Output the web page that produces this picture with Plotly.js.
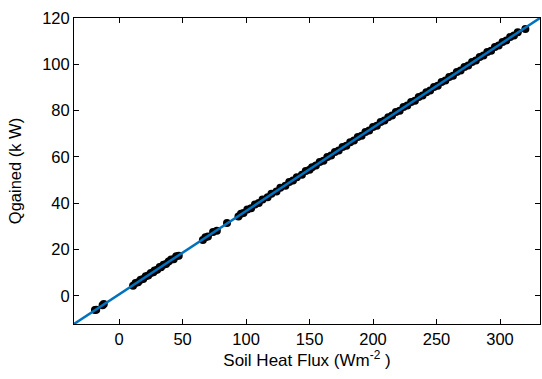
<!DOCTYPE html>
<html>
<head>
<meta charset="utf-8">
<script src="https://cdn.plot.ly/plotly-3.0.1.min.js"></script>
<style>html,body{margin:0;padding:0;background:#fff;}#chart{width:542px;height:379px;}</style>
</head>
<body>
<div id="chart"></div>
<script>
// Measured points: soil heat flux (W m^-2) vs heat gained (kW)
const fluxValues = [-19, -18, -13, -12, 11, 13, 15, 17, 19, 21, 23, 25, 27, 28, 30, 32, 33, 35, 37, 39, 41, 43, 45, 47,
  66, 68, 70, 74, 77, 85, 94, 96, 98, 101, 104, 107, 110, 113, 117, 120, 124, 127, 131, 134, 137, 140, 144, 147,
  150, 152, 155, 158, 161, 164, 167, 170, 173, 176, 179, 182, 185, 188, 191, 194, 197, 200, 203, 206, 209, 212,
  215, 218, 221, 224, 227, 230, 233, 236, 239, 242, 245, 248, 251, 254, 257, 260, 263, 266, 269, 272, 275, 278,
  281, 284, 287, 290, 293, 296, 299, 302, 305, 308, 311, 314, 320];
const qGainedValues = [-6.1, -5.9, -4.0, -3.5, 4.4, 5.6, 5.9, 7.0, 7.3, 8.5, 8.8, 9.9, 10.2, 11.0, 11.3, 12.5, 12.4, 13.5, 13.8, 14.9, 15.7, 15.9, 17.1, 17.4,
  24.2, 25.4, 25.7, 27.6, 28.2, 31.5, 34.3, 35.5, 35.8, 37.3, 37.9, 39.5, 40.1, 41.6, 42.6, 44.1, 45.1, 46.7, 47.6, 49.2, 49.8, 51.3, 52.3, 53.9,
  54.5, 55.6, 56.3, 57.8, 58.4, 60.0, 60.6, 62.1, 62.8, 64.3, 64.9, 66.4, 67.1, 68.6, 69.2, 70.8, 71.4, 72.9, 73.5, 75.1, 75.7, 77.2,
  77.9, 79.4, 80.0, 81.6, 82.2, 83.7, 84.3, 85.9, 86.5, 88.0, 88.7, 90.2, 90.8, 92.4, 93.0, 94.5, 95.1, 96.7, 97.3, 98.8, 99.5, 101.0,
  101.6, 103.2, 103.8, 105.3, 105.9, 107.5, 108.1, 109.6, 110.3, 111.8, 112.4, 113.9, 115.3];
// Fitted line endpoints
const fitX = [-35.5, 331.5];
const fitY = [-12.1, 120];
const xTicks = [0, 50, 100, 150, 200, 250, 300];
const yTicks = [0, 20, 40, 60, 80, 100, 120];

const FONT = 'Liberation Sans, Arial, sans-serif';
const traces = [
  {x: fluxValues, y: qGainedValues, type: 'scatter', mode: 'markers',
   marker: {color: '#000000', size: 8}},
  {x: fitX, y: fitY, type: 'scatter', mode: 'lines',
   line: {color: '#0072BD', width: 2.5}}
];
const axisCommon = {
  showgrid: false, zeroline: false, showline: true, mirror: 'ticks',
  linecolor: '#000', linewidth: 1, ticks: 'inside', ticklen: 5, tickcolor: '#000',
  tickfont: {family: FONT, size: 16.5, color: '#000'}
};
const layout = {
  width: 542, height: 379,
  margin: {l: 74, r: 2, t: 18, b: 55},
  paper_bgcolor: '#fff', plot_bgcolor: '#fff',
  showlegend: false,
  xaxis: Object.assign({}, axisCommon, {
    range: [fitX[0], fitX[1]], tickvals: xTicks, ticktext: xTicks.map(String),
    title: {text: 'Soil Heat Flux (Wm<sup>-2</sup> )', standoff: 6,
      font: {family: FONT, size: 17, color: '#000'}}
  }),
  yaxis: Object.assign({}, axisCommon, {
    range: [fitY[0], fitY[1]], tickvals: yTicks, ticktext: yTicks.map(String),
    title: {text: 'Qgained (k W)', standoff: 16,
      font: {family: FONT, size: 16.5, color: '#000'}}
  })
};
Plotly.newPlot('chart', traces, layout, {displayModeBar: false, staticPlot: true});
</script>
</body>
</html>
